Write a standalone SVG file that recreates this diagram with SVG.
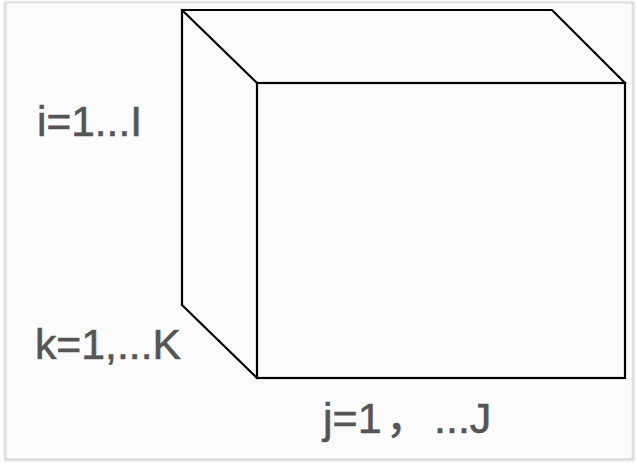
<svg xmlns="http://www.w3.org/2000/svg" width="637" height="472" viewBox="0 0 637 472">
  <style>
    .edge { stroke: #000; stroke-width: 2.2; fill: none; stroke-linecap: square; stroke-linejoin: miter; }
    .lbl { font-family: "Liberation Sans", Arial, "Noto Sans CJK SC", sans-serif; font-size: 43px; fill: #555; stroke: #555; stroke-width: 0.6; }
    .cjk { font-family: "Noto Sans CJK SC", sans-serif; }
  </style>
  <defs>
    <filter id="sh" x="-5%" y="-5%" width="110%" height="110%">
      <feGaussianBlur stdDeviation="1.2"/>
    </filter>
  </defs>
  <rect x="0" y="0" width="637" height="472" fill="#fff"/>
  <rect id="panel-shadow" x="5.5" y="3" width="627.5" height="456.5" fill="none" stroke="#cfcfcf" stroke-width="2.5" filter="url(#sh)"/>
  <rect id="panel" x="6.5" y="3.5" width="625" height="454.5" fill="#fcfcfc"/>
  <g id="box">
    <polyline class="edge" points="182,305 182,10 552,10 625,83"/>
    <line class="edge" x1="182" y1="10" x2="257" y2="83"/>
    <line class="edge" x1="182" y1="305" x2="257" y2="378"/>
    <rect class="edge" x="257" y="83" width="368" height="295"/>
  </g>
  <g id="labels">
    <text id="label-i" class="lbl" x="37" y="136" textLength="105" lengthAdjust="spacingAndGlyphs">i=1...I</text>
    <text id="label-k" class="lbl" x="35" y="359" textLength="146" lengthAdjust="spacingAndGlyphs">k=1,...K</text>
    <text id="label-j" class="lbl" y="433"><tspan x="323">j=1</tspan><tspan class="cjk" x="386">，</tspan><tspan x="434"> </tspan><tspan x="434">...J</tspan></text>
  </g>
</svg>
